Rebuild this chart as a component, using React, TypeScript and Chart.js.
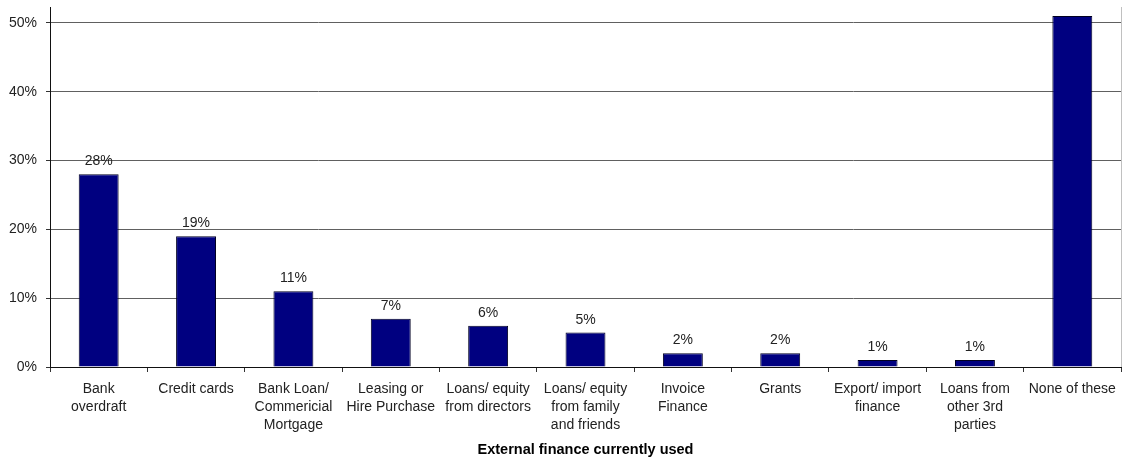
import React, { useEffect, useRef } from "react";
import { Chart, registerables } from "chart.js";

Chart.register(...registerables);

const categories: string[][] = [
  ["Bank", "overdraft"],
  ["Credit cards"],
  ["Bank Loan/", "Commericial", "Mortgage"],
  ["Leasing or", "Hire Purchase"],
  ["Loans/ equity", "from directors"],
  ["Loans/ equity", "from family", "and friends"],
  ["Invoice", "Finance"],
  ["Grants"],
  ["Export/ import", "finance"],
  ["Loans from", "other 3rd", "parties"],
  ["None of these"],
];
const values: number[] = [28, 19, 11, 7, 6, 5, 2, 2, 1, 1, 51];
const yTicks: number[] = [0, 10, 20, 30, 40, 50];
const xTitle = "External finance currently used";

const FONT = '"Liberation Sans", Arial, sans-serif';

const valueLabels = {
  id: "valueLabels",
  afterDatasetsDraw(chart: any) {
    const ctx = chart.ctx;
    const meta = chart.getDatasetMeta(0);
    ctx.save();
    ctx.font = `14px ${FONT}`;
    ctx.fillStyle = "#222";
    ctx.textAlign = "center";
    ctx.textBaseline = "alphabetic";
    meta.data.forEach((bar: any, i: number) => {
      const y = bar.y - 9;
      if (y - 11 < chart.chartArea.top) return;
      ctx.fillText(values[i] + "%", bar.x, y);
    });
    ctx.restore();
  },
};

const rightBorder = {
  id: "rightBorder",
  afterDraw(chart: any) {
    const { ctx, chartArea } = chart;
    ctx.save();
    ctx.strokeStyle = "#c0c0c0";
    ctx.lineWidth = 1;
    ctx.beginPath();
    ctx.moveTo(Math.round(chartArea.right) + 0.5, chartArea.top);
    ctx.lineTo(Math.round(chartArea.right) + 0.5, chartArea.bottom);
    ctx.stroke();
    ctx.restore();
  },
};

export default function App() {
  const ref = useRef<HTMLCanvasElement | null>(null);

  useEffect(() => {
    document.body.style.margin = "0";
    if (!ref.current) return;
    const chart = new Chart(ref.current, {
      type: "bar",
      data: {
        labels: categories,
        datasets: [
          {
            data: values,
            backgroundColor: "#000080",
            borderColor: "#000022",
            borderWidth: 1,
            barPercentage: 0.41,
            categoryPercentage: 1,
          },
        ],
      },
      options: {
        responsive: false,
        animation: false,
        devicePixelRatio: 1,
        layout: { padding: { top: 7, right: 4, left: 0, bottom: 0 } },
        plugins: {
          legend: { display: false },
          tooltip: { enabled: false },
        },
        scales: {
          x: {
            offset: true,
            grid: {
              display: true,
              offset: true,
              drawOnChartArea: false,
              tickLength: 5,
              tickColor: "#333",
            },
            border: { color: "#111", width: 1 },
            ticks: {
              font: { family: FONT, size: 14, lineHeight: 1.3 },
              color: "#222",
              padding: 8,
              maxRotation: 0,
              minRotation: 0,
              autoSkip: false,
            },
            title: {
              display: true,
              text: xTitle,
              font: { family: FONT, size: 14.5, weight: "bold" },
              color: "#000",
              padding: { top: 0, bottom: 0 },
            },
            afterFit: (s: any) => {
              s.height = 92;
              s.paddingLeft = 0;
              s.paddingRight = 0;
            },
          },
          y: {
            min: 0,
            max: 52.3,
            afterBuildTicks: (s: any) => {
              s.ticks = yTicks.map((v) => ({ value: v }));
            },
            ticks: {
              callback: (v: any) => v + "%",
              font: { family: FONT, size: 14 },
              color: "#222",
              padding: 9,
            },
            grid: {
              color: "#606060",
              lineWidth: 1,
              tickLength: 4,
              tickColor: "#333",
            },
            border: { color: "#111", width: 1 },
            afterFit: (s: any) => {
              s.width = 50;
              s.paddingTop = 0;
              s.paddingBottom = 0;
            },
          },
        },
      },
      plugins: [valueLabels, rightBorder],
    } as any);
    return () => chart.destroy();
  }, []);

  return (
    <div style={{ width: 1125, height: 459, background: "#fff" }}>
      <canvas ref={ref} width={1125} height={459} />
    </div>
  );
}
